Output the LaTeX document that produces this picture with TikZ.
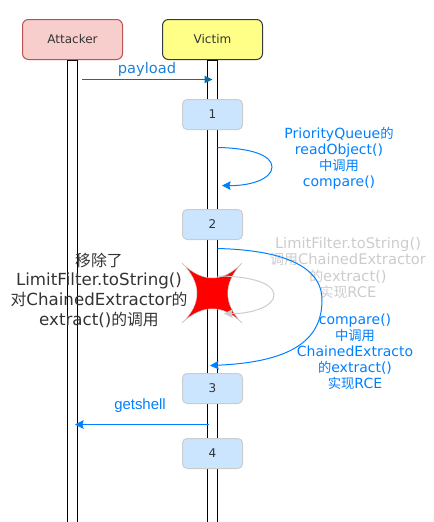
\documentclass[tikz,border=0pt]{standalone}
\usepackage{fontspec}
\setmainfont{DejaVu Sans}
\newfontfamily\cjk[Scale=0.95]{Noto Sans CJK SC}
\newfontfamily\armfont{Liberation Sans}
\usetikzlibrary{arrows.meta}
\definecolor{callblue}{HTML}{007FFF}
\definecolor{textgrey}{HTML}{333333}
\definecolor{faded}{HTML}{CCCCCC}
\definecolor{stepfill}{HTML}{CCE5FF}
\definecolor{attackerfill}{HTML}{F8CECC}
\definecolor{attackerdraw}{HTML}{B85450}
\definecolor{victimfill}{HTML}{FFFF88}
\definecolor{victimdraw}{HTML}{36393D}
\definecolor{payloadline}{HTML}{006EAF}
\definecolor{payloadtext}{HTML}{2080D8}
\tikzset{
    head/.style={draw, rounded corners=4.5pt, line width=0.75pt, minimum width=75pt, minimum height=30pt, inner sep=0pt, text=textgrey, font=\fontsize{9}{11}\selectfont},
    lifeline/.style={draw=black, fill=white, line width=0.75pt, minimum width=7.5pt, minimum height=347pt, inner sep=0pt, anchor=north},
    stepbox/.style={draw=faded, fill=stepfill, rounded corners=3.5pt, line width=0.75pt, minimum width=45pt, minimum height=22.5pt, inner sep=0pt, text=textgrey, font=\fontsize{9}{11}\selectfont},
    calltext/.style={align=center, text=callblue, font=\fontsize{10.5}{12}\selectfont},
    call/.style={-{Stealth[length=6.5pt,width=6.5pt,inset=1pt]}, color=callblue, line width=0.75pt},
}
\begin{document}
\begin{tikzpicture}[x=0.75pt, y=-0.75pt]
    \useasboundingbox (0,0) rectangle (433,522);

    % lifelines
    \node[lifeline] (attackerline) at (72.5,59.5) {};
    \node[lifeline] (victimline) at (212.5,59.5) {};

    \node[head, fill=attackerfill, draw=attackerdraw] (attacker) at (72.5,39.5) {Attacker};
    \node[head, fill=victimfill, draw=victimdraw] (victim) at (212.5,39.5) {Victim};

    \node[stepbox] (one) at (212.5,114.5) {1};
    \node[stepbox] (two) at (212.5,224.5) {2};
    \node[stepbox] (three) at (212.5,388.5) {3};
    \node[stepbox] (four) at (212.5,453.5) {4};

    % payload
    \coordinate (payloadstart) at (82,79.5);
    \coordinate (payloadend) at (212.5,79.5);
    \draw[-{Triangle[length=6pt,width=5.5pt]}, color=payloadline, line width=0.75pt] (payloadstart) -- (payloadend);
    \node[calltext, text=payloadtext, font=\fontsize{11}{13}\selectfont] (payload) at (147,69) {payload};

    % compare
    \coordinate (loopastart) at (217.5,147.5);
    \coordinate (loopamid) at (272,167);
    \coordinate (loopaend) at (222,185.5);
    \draw[call] (loopastart) .. controls (250,148) and (272,155) .. (loopamid) .. controls (272,179) and (250,186) .. (loopaend);
    \node[calltext] (readobject) at (339,158) {PriorityQueue{\cjk 的}\\readObject()\\{\cjk 中调用}\\compare()};

    \node[calltext, text=faded, font=\fontsize{11}{12.2}\selectfont] (removed) at (348,268) {LimitFilter.toString()\\{\cjk 调用}ChainedExtractor\\{\cjk 的}extract()\\{\cjk 实现}RCE};

    % removed call
    \fill[red, draw=faded, line width=0.3pt] (182,263) .. controls (202,283) and (223,283) .. (242,263)
        .. controls (223,283) and (223,304) .. (242,323)
        .. controls (223,304) and (202,304) .. (182,323)
        .. controls (202,304) and (202,283) .. cycle;
    \coordinate (loopbstart) at (217.5,276);
    \coordinate (loopbmid) at (274,295);
    \coordinate (loopbend) at (224,313.5);
    \draw[call, color=faded] (loopbstart) .. controls (250,276) and (274,283) .. (loopbmid) .. controls (274,307) and (250,314) .. (loopbend);

    % extract
    \coordinate (loopcstart) at (217.5,248.5);
    \coordinate (loopcmid) at (322,300);
    \coordinate (loopcend) at (210,365.5);
    \draw[call] (loopcstart) .. controls (280,250) and (322,265) .. (loopcmid) .. controls (322,338) and (295,362) .. (loopcend);
    \node[calltext] (extract) at (355,352) {compare()\\{\cjk 中调用}\\ChainedExtracto\\{\cjk 的}extract()\\{\cjk 实现}RCE};

    \node[align=center, text=textgrey, font=\fontsize{12.5}{14.8}\selectfont] (note) at (99,290) {{\cjk 移除了}\\LimitFilter.toString()\\{\cjk 对}ChainedExtractor{\cjk 的}\\extract(){\cjk 的调用}};

    % getshell
    \coordinate (shellstart) at (209,424.5);
    \coordinate (shellend) at (75,424.5);
    \draw[call] (shellstart) -- (shellend);
    \node[text=callblue, font=\armfont\fontsize{11.2}{13}\selectfont] (getshell) at (140,406) {getshell};
\end{tikzpicture}
\end{document}
